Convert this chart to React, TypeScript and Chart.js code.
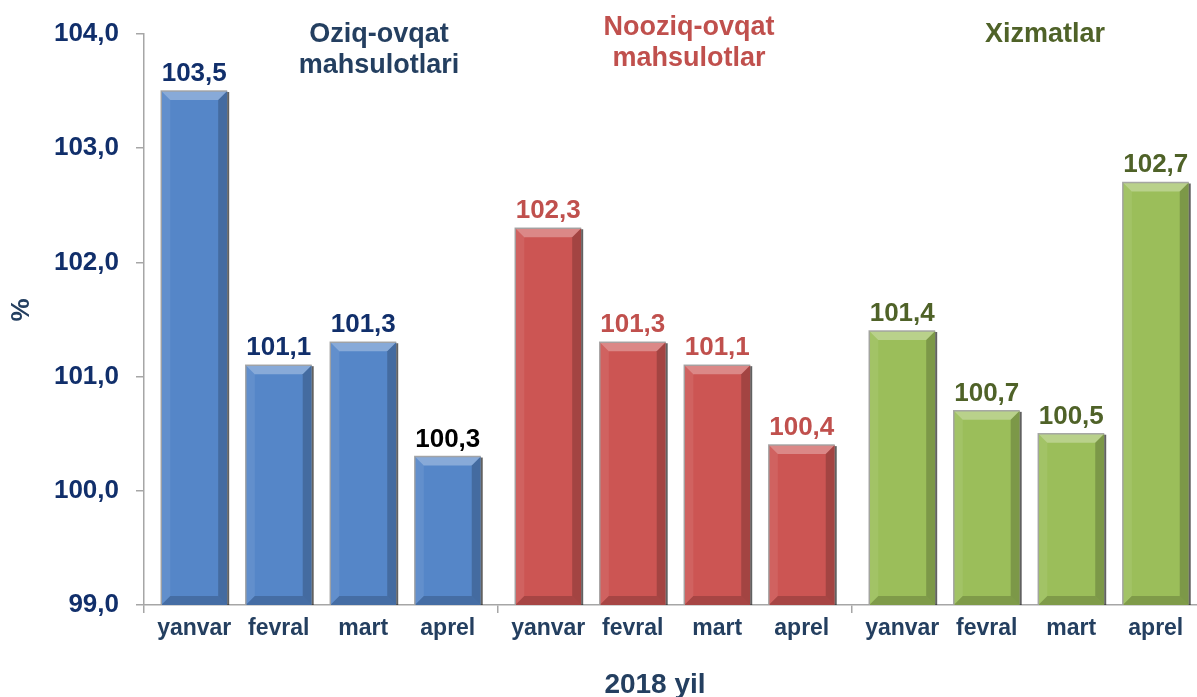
import { useEffect, useRef } from "react";
import { Chart, registerables } from "chart.js";

Chart.register(...registerables);

// ---- data ----
const groupTitles = [["Oziq-ovqat", "mahsulotlari"], ["Nooziq-ovqat", "mahsulotlar"], ["Xizmatlar"]];
const months = ["yanvar", "fevral", "mart", "aprel"];
const foodValues = [103.5, 101.1, 101.3, 100.3];
const nonFoodValues = [102.3, 101.3, 101.1, 100.4];
const servicesValues = [101.4, 100.7, 100.5, 102.7];
const yTickValues = [99, 100, 101, 102, 103, 104];
const xAxisTitle = "2018 yil";
const yAxisTitle = "%";

// ---- styles ----
const FONT = "'Liberation Sans', Arial, sans-serif";
const groupColors = ["#5586C8", "#CC5553", "#9BBE5A"];
const groupTitleColors = ["#243F60", "#C0504D", "#4F6228"];
const valueLabelColors = [
  ["#112F6B", "#112F6B", "#112F6B", "#000000"],
  ["#C0504D", "#C0504D", "#C0504D", "#C0504D"],
  ["#4F6228", "#4F6228", "#4F6228", "#4F6228"],
];
const tickNavy = "#112F6B";
const slate = "#243F60";
const axisGray = "#A6A6A6";

const fmt = (v: number) => v.toFixed(1).replace(".", ",");

const bevelPlugin = {
  id: "bevel",
  afterDatasetsDraw(chart: any) {
    const ctx = chart.ctx;
    const area = chart.chartArea;
    chart.data.datasets.forEach((_: any, di: number) => {
      const meta = chart.getDatasetMeta(di);
      meta.data.forEach((bar: any) => {
        const { x, y, base, width } = bar.getProps(["x", "y", "base", "width"], true);
        const l = x - width / 2;
        const r = x + width / 2;
        const t = y;
        const b = Math.min(base, area.bottom);
        const s = 9;
        const poly = (pts: number[][], fill: string) => {
          ctx.beginPath();
          ctx.moveTo(pts[0][0], pts[0][1]);
          for (let i = 1; i < pts.length; i++) ctx.lineTo(pts[i][0], pts[i][1]);
          ctx.closePath();
          ctx.fillStyle = fill;
          ctx.fill();
        };
        ctx.save();
        poly([[l, t], [r, t], [r - s, t + s], [l + s, t + s]], "rgba(255,255,255,0.30)");
        poly([[l, t], [l + s, t + s], [l + s, b - s], [l, b]], "rgba(255,255,255,0.08)");
        poly([[r, t], [r - s, t + s], [r - s, b - s], [r, b]], "rgba(0,0,0,0.20)");
        poly([[l, b], [l + s, b - s], [r - s, b - s], [r, b]], "rgba(0,0,0,0.18)");
        ctx.strokeStyle = "rgba(160,160,160,0.9)";
        ctx.lineWidth = 1.5;
        ctx.beginPath();
        ctx.moveTo(l, b);
        ctx.lineTo(l, t);
        ctx.lineTo(r, t);
        ctx.stroke();
        ctx.strokeStyle = "rgba(30,30,30,0.7)";
        ctx.lineWidth = 2;
        ctx.beginPath();
        ctx.moveTo(r + 1, t + 1);
        ctx.lineTo(r + 1, b);
        ctx.stroke();
        ctx.restore();
      });
    });
  },
};

const textPlugin = {
  id: "texts",
  afterDraw(chart: any) {
    const ctx = chart.ctx;
    ctx.save();
    chart.data.datasets.forEach((ds: any, di: number) => {
      const meta = chart.getDatasetMeta(di);
      meta.data.forEach((bar: any, gi: number) => {
        const { x, y } = bar.getProps(["x", "y"], true);
        ctx.font = `bold 26px ${FONT}`;
        ctx.textAlign = "center";
        ctx.textBaseline = "alphabetic";
        ctx.fillStyle = valueLabelColors[gi][di];
        ctx.fillText(fmt(ds.data[gi]), x, y - 10);
        ctx.font = `bold 23px ${FONT}`;
        ctx.fillStyle = slate;
        ctx.fillText(months[di], x, 635);
      });
    });
    const titleCenters = [379, 689, 1045];
    const titleBaselines = [[42, 73], [35, 66], [42]];
    ctx.font = `bold 27px ${FONT}`;
    ctx.textAlign = "center";
    groupTitles.forEach((lines, gi) => {
      ctx.fillStyle = groupTitleColors[gi];
      lines.forEach((line, li) => ctx.fillText(line, titleCenters[gi], titleBaselines[gi][li]));
    });
    ctx.font = `bold 28px ${FONT}`;
    ctx.fillStyle = slate;
    ctx.fillText(xAxisTitle, 655, 693);
    ctx.translate(22, 310);
    ctx.rotate(-Math.PI / 2);
    ctx.font = `bold 26px ${FONT}`;
    ctx.textBaseline = "middle";
    ctx.fillText(yAxisTitle, 0, 0);
    ctx.restore();
  },
};

export default function App() {
  const ref = useRef<HTMLCanvasElement | null>(null);
  useEffect(() => {
    if (!ref.current) return;
    const groupValues = [foodValues, nonFoodValues, servicesValues];
    const chart = new Chart(ref.current, {
      type: "bar",
      data: {
        labels: groupTitles.map((l) => l.join(" ")),
        datasets: months.map((m, mi) => ({
          label: m,
          data: groupValues.map((g) => g[mi]),
          backgroundColor: groupColors,
          borderWidth: 0,
          barPercentage: 0.78,
          categoryPercentage: 0.955,
        })),
      },
      options: {
        responsive: false,
        animation: false,
        layout: { padding: { top: 34, right: 6, left: 0, bottom: 0 } },
        plugins: { legend: { display: false }, tooltip: { enabled: false }, title: { display: false } },
        scales: {
          x: {
            type: "category",
            offset: true,
            grid: { offset: true, drawOnChartArea: false, drawTicks: true, tickLength: 8, color: axisGray, lineWidth: 1.5 },
            border: { color: axisGray, width: 1.5 },
            ticks: { display: false },
            afterFit: (s: any) => { s.height = 92; },
          },
          y: {
            min: yTickValues[0],
            max: yTickValues[yTickValues.length - 1],
            afterBuildTicks: (s: any) => { s.ticks = yTickValues.map((v) => ({ value: v })); },
            ticks: {
              callback: (v: any) => fmt(Number(v)),
              font: { family: FONT, size: 26, weight: "bold" },
              color: tickNavy,
              padding: 17,
            },
            grid: { drawOnChartArea: false, tickLength: 8, color: axisGray, lineWidth: 1.5 },
            border: { color: axisGray, width: 1.5 },
            afterFit: (s: any) => { s.width = 144; },
          },
        },
      } as any,
      plugins: [bevelPlugin, textPlugin],
    });
    return () => chart.destroy();
  }, []);
  return (
    <div style={{ position: "fixed", left: 0, top: 0, width: 1197, height: 697, overflow: "hidden", background: "#fff" }}>
      <canvas ref={ref} width={1212} height={697} style={{ width: 1212, height: 697, display: "block" }} />
    </div>
  );
}
